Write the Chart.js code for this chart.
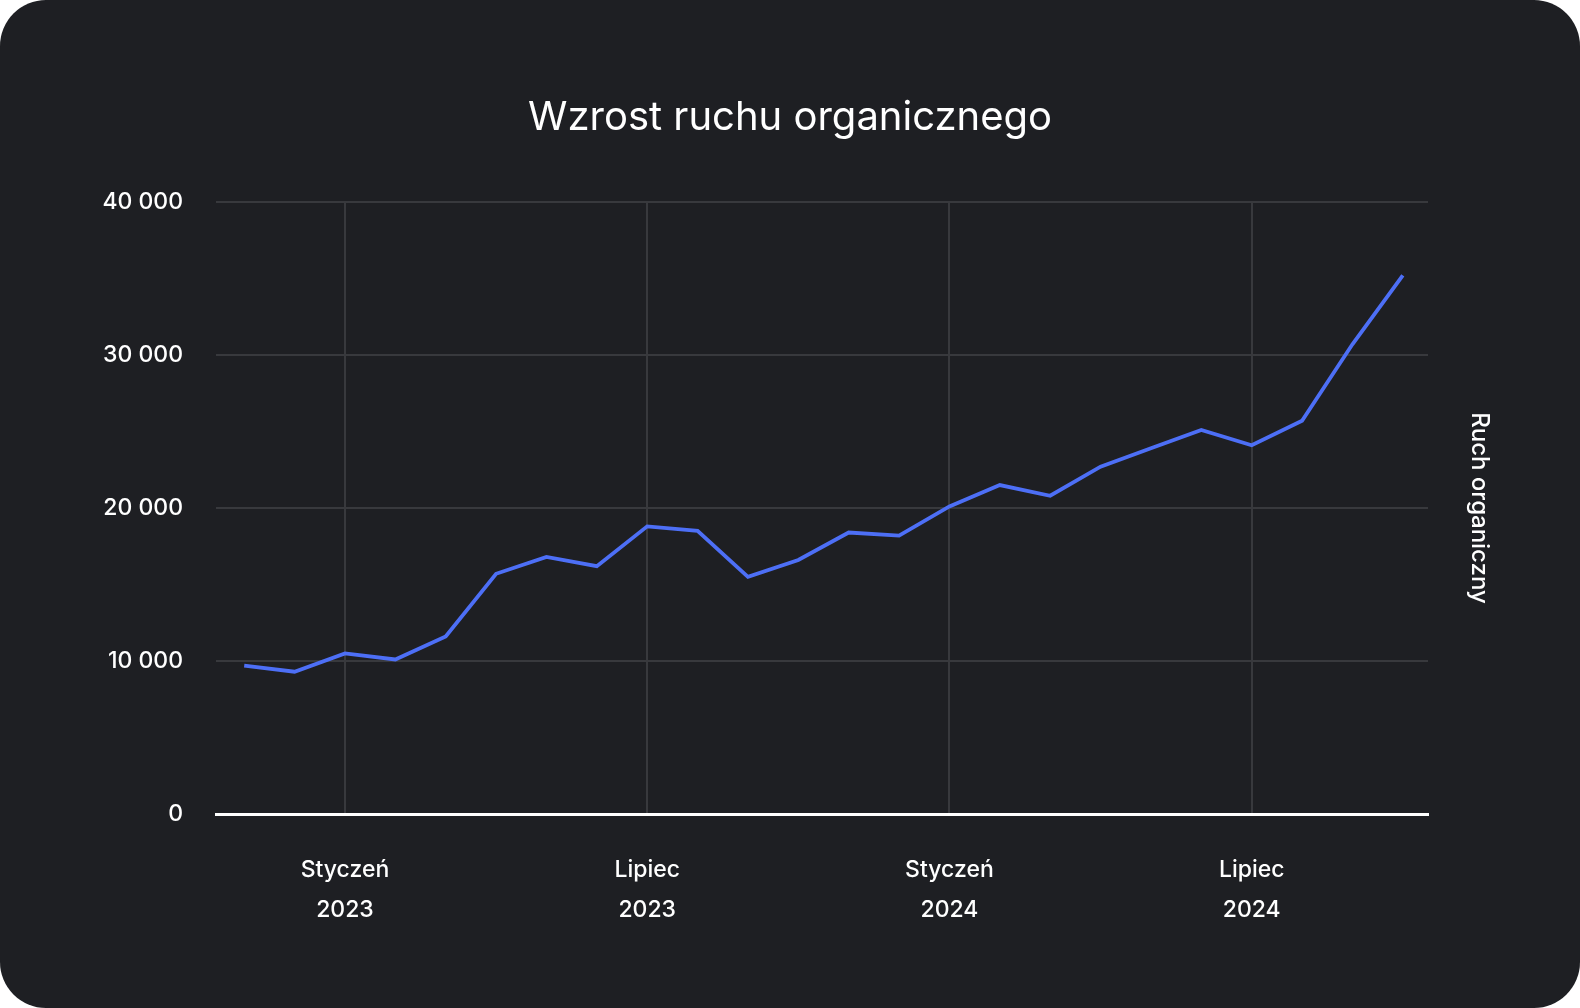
<!DOCTYPE html>
<html>
<head>
<meta charset="utf-8">
<script src="https://cdn.jsdelivr.net/npm/chart.js@4"></script>
<style>
  html, body { margin: 0; padding: 0; background: #ffffff; }
  .card {
    width: 1580px; height: 1008px;
    background: #1e1f23;
    border-radius: 46px;
    overflow: hidden;
  }
</style>
</head>
<body>
<div class="card">
  <canvas id="chart" width="1580" height="1008"></canvas>
</div>
<script>
// miesiące od listopada 2022 do października 2024
const months = ['Listopad','Grudzień','Styczeń','Luty','Marzec','Kwiecień','Maj','Czerwiec','Lipiec','Sierpień','Wrzesień','Październik',
                'Listopad','Grudzień','Styczeń','Luty','Marzec','Kwiecień','Maj','Czerwiec','Lipiec','Sierpień','Wrzesień','Październik']
const years = ['2022','2022','2023','2023','2023','2023','2023','2023','2023','2023','2023','2023',
               '2023','2023','2024','2024','2024','2024','2024','2024','2024','2024','2024','2024']
const traffic = [9700, 9300, 10500, 10100, 11600, 15700, 16800, 16200, 18800, 18500, 15500, 16600,
                 18400, 18200, 20100, 21500, 20800, 22700, 23900, 25100, 24100, 25700, 30700, 35200]
const shownMonths = ['Styczeń', 'Lipiec']
const yTicks = [0, 10000, 20000, 30000, 40000]

const fontFamily = 'Inter, "Open Sans", sans-serif'
const gridColor = '#38393d'

function formatNumber(v){
    return String(v).replace(/\B(?=(\d{3})+(?!\d))/g, ' ')
}

Chart.defaults.font.family = fontFamily
Chart.defaults.color = '#ffffff'

new Chart(document.getElementById('chart'), {
    type: 'line',
    data: {
        datasets: [{
            label: 'Ruch organiczny',
            data: traffic.map((v, i) => ({ x: i, y: v })),
            borderColor: '#4d6ff6',
            borderWidth: 3.8,
            pointRadius: 0,
            tension: 0,
            fill: false
        }]
    },
    options: {
        responsive: false,
        animation: false,
        layout: { padding: 0 },
        plugins: {
            legend: { display: false },
            tooltip: { enabled: false },
            title: {
                display: true,
                text: 'Wzrost ruchu organicznego',
                color: '#ffffff',
                font: { size: 40, weight: 'normal' },
                padding: { top: 94, bottom: 60 }
            }
        },
        scales: {
            x: {
                type: 'linear',
                min: -0.56,
                max: 23.5,
                border: { display: true, color: '#ffffff', width: 3 },
                grid: {
                    drawTicks: false,
                    lineWidth: 2,
                    color: gridColor
                },
                afterBuildTicks: scale => {
                    scale.ticks = months.map((m, i) => i).filter(i => shownMonths.includes(months[i])).map(i => ({ value: i }))
                },
                ticks: {
                    autoSkip: false,
                    maxRotation: 0,
                    padding: 36,
                    font: { size: 23, weight: 500, lineHeight: 40 / 23 },
                    callback: v => [months[v], years[v]]
                },
                afterFit: scale => { scale.height = 194 }
            },
            y: {
                min: 0,
                max: 40000,
                position: 'left',
                border: { display: false },
                grid: {
                    drawTicks: false,
                    lineWidth: 2,
                    color: ctx => (ctx.tick && ctx.tick.value === 0) ? 'rgba(0,0,0,0)' : gridColor
                },
                afterBuildTicks: scale => { scale.ticks = yTicks.map(v => ({ value: v })) },
                ticks: {
                    padding: 33,
                    font: { size: 23, weight: 500 },
                    callback: v => formatNumber(v)
                },
                afterFit: scale => { scale.width = 216 }
            },
            y2: {
                position: 'right',
                min: 0,
                max: 40000,
                border: { display: false },
                grid: { display: false, drawOnChartArea: false },
                ticks: { display: false },
                title: {
                    display: true,
                    text: 'Ruch organiczny',
                    color: '#ffffff',
                    font: { size: 24, weight: 500 },
                    padding: { top: 86, bottom: 0 }
                },
                afterFit: scale => { scale.width = 152 }
            }
        }
    }
})
</script>
</body>
</html>
